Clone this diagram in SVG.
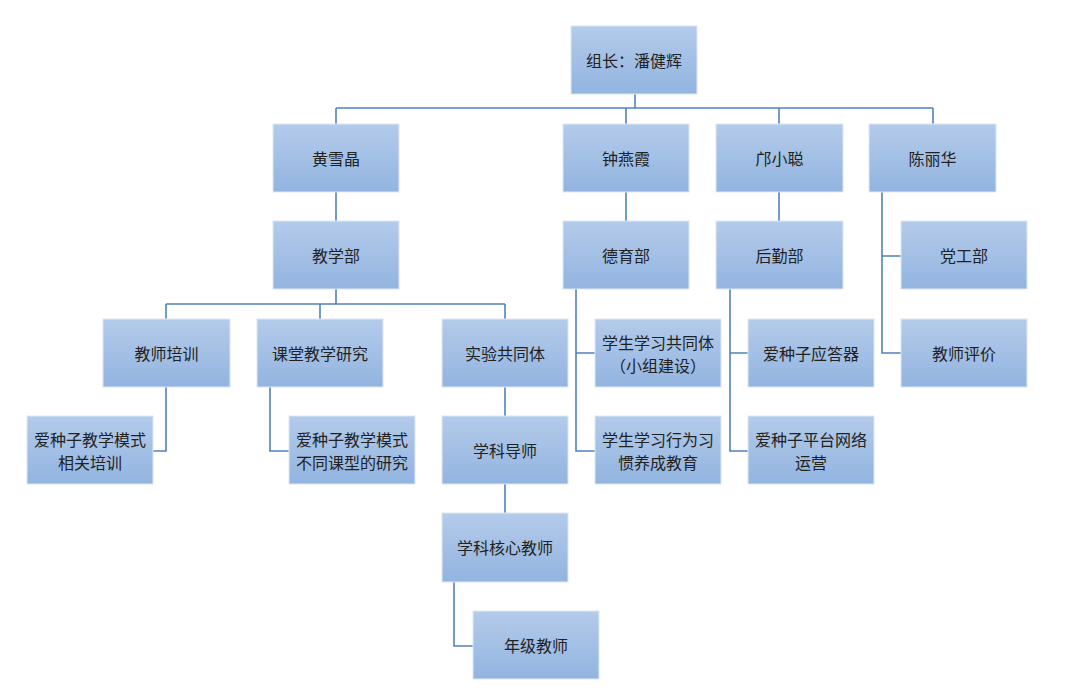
<svg xmlns="http://www.w3.org/2000/svg" width="1071" height="693" viewBox="0 0 1071 693">
<defs>
<linearGradient id="g" x1="0" y1="0" x2="0" y2="1">
<stop offset="0" stop-color="#b4cbea"/>
<stop offset="1" stop-color="#92b4e0"/>
</linearGradient>
<style>
.b{fill:url(#g);stroke:#dde7f4;stroke-width:1}
.t{font-family:"Noto Sans CJK SC","Noto Sans CJK JP",sans-serif;font-size:16px;fill:#222;text-anchor:middle;dominant-baseline:central}
.c{fill:none;stroke:#4f81bd;stroke-width:1.6}
</style>
</defs>
<rect width="1071" height="693" fill="#fff"/>
<g id="connectors">
<path class="c" d="M635 94V108M336 108H933M336 108V124M626 108V124M779 108V124M933 108V124"/>
<path class="c" d="M336 192V221M336 289V304M166 304H505M166 304V319M320 304V319M505 304V319"/>
<path class="c" d="M166 387V451H153M270 387V451H289"/>
<path class="c" d="M505 387V416M505 484V513M454 582V646H473"/>
<path class="c" d="M626 192V221M576 289V451H595M576 353H595"/>
<path class="c" d="M779 192V221M730 289V451H748M730 353H748"/>
<path class="c" d="M882 192V353H901M882 256H901"/>
</g>
<g id="n-leader"><rect class="b" x="571" y="26" width="126" height="68"/><text class="t" x="634" y="60">组长：潘健辉</text></g>
<g id="n-huang"><rect class="b" x="273" y="124" width="126" height="68"/><text class="t" x="336" y="158">黄雪晶</text></g>
<g id="n-zhong"><rect class="b" x="563" y="124" width="126" height="68"/><text class="t" x="626" y="158">钟燕霞</text></g>
<g id="n-kuang"><rect class="b" x="716" y="124" width="127" height="68"/><text class="t" x="779.5" y="158">邝小聪</text></g>
<g id="n-chen"><rect class="b" x="869" y="124" width="127" height="68"/><text class="t" x="932.5" y="158">陈丽华</text></g>
<g id="n-jiaoxue"><rect class="b" x="273" y="221" width="126" height="68"/><text class="t" x="336" y="255">教学部</text></g>
<g id="n-deyu"><rect class="b" x="563" y="221" width="126" height="68"/><text class="t" x="626" y="255">德育部</text></g>
<g id="n-houqin"><rect class="b" x="716" y="221" width="127" height="68"/><text class="t" x="779.5" y="255">后勤部</text></g>
<g id="n-donggong"><rect class="b" x="901" y="221" width="126" height="68"/><text class="t" x="964" y="255">党工部</text></g>
<g id="n-peixun"><rect class="b" x="103" y="319" width="127" height="68"/><text class="t" x="166.5" y="353">教师培训</text></g>
<g id="n-ketang"><rect class="b" x="257" y="319" width="126" height="68"/><text class="t" x="320" y="353">课堂教学研究</text></g>
<g id="n-shiyan"><rect class="b" x="442" y="319" width="126" height="68"/><text class="t" x="505" y="353">实验共同体</text></g>
<g id="n-xsgtt"><rect class="b" x="595" y="319" width="126" height="68"/><text class="t"><tspan x="658" y="341.5">学生学习共同体</tspan><tspan x="658" y="364.5">（小组建设）</tspan></text></g>
<g id="n-ydq"><rect class="b" x="748" y="319" width="126" height="68"/><text class="t" x="811" y="353">爱种子应答器</text></g>
<g id="n-pingjia"><rect class="b" x="901" y="319" width="126" height="68"/><text class="t" x="964" y="353">教师评价</text></g>
<g id="n-xgpx"><rect class="b" x="27" y="416" width="126" height="68"/><text class="t"><tspan x="90" y="438.5">爱种子教学模式</tspan><tspan x="90" y="461.5">相关培训</tspan></text></g>
<g id="n-btkx"><rect class="b" x="289" y="416" width="126" height="68"/><text class="t"><tspan x="352" y="438.5">爱种子教学模式</tspan><tspan x="352" y="461.5">不同课型的研究</tspan></text></g>
<g id="n-daoshi"><rect class="b" x="442" y="416" width="126" height="68"/><text class="t" x="505" y="450">学科导师</text></g>
<g id="n-xwxg"><rect class="b" x="595" y="416" width="126" height="68"/><text class="t"><tspan x="658" y="438.5">学生学习行为习</tspan><tspan x="658" y="461.5">惯养成教育</tspan></text></g>
<g id="n-wlyy"><rect class="b" x="748" y="416" width="126" height="68"/><text class="t"><tspan x="811" y="438.5">爱种子平台网络</tspan><tspan x="811" y="461.5">运营</tspan></text></g>
<g id="n-hexin"><rect class="b" x="442" y="513" width="126" height="69"/><text class="t" x="505" y="547">学科核心教师</text></g>
<g id="n-nianji"><rect class="b" x="473" y="611" width="126" height="68"/><text class="t" x="536" y="645">年级教师</text></g>
</svg>
